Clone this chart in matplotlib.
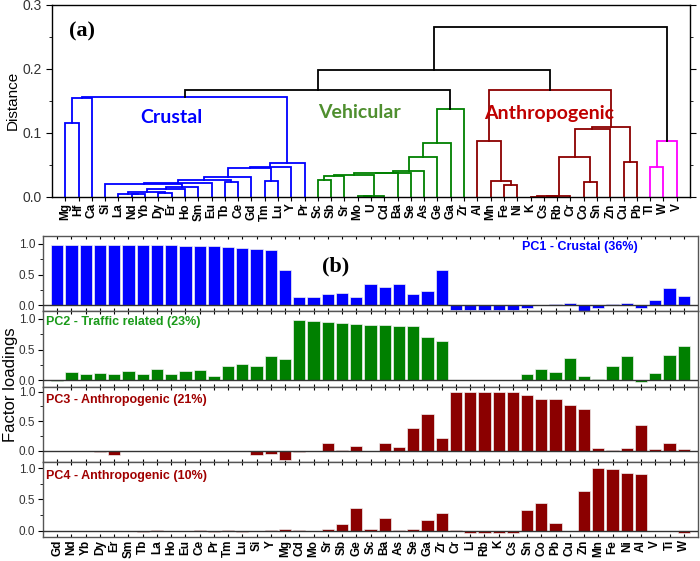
import matplotlib

matplotlib.use("Agg")
import matplotlib.pyplot as plt
from matplotlib.ticker import MultipleLocator

plt.rcParams["font.family"] = ["Liberation Sans", "DejaVu Sans"]

# ---- panel (a): hierarchical cluster dendrogram ----
dendro_leaves = ["Mg", "Hf", "Ca", "Si", "La", "Nd", "Yb", "Dy", "Er", "Ho", "Sm", "Eu",
                 "Tb", "Ce", "Gd", "Tm", "Lu", "Y", "Pr", "Sc", "Sb", "Sr", "Mo", "U",
                 "Cd", "Ba", "Se", "As", "Ge", "Ga", "Zr", "Al", "Mn", "Fe", "Ni", "K",
                 "Cs", "Rb", "Cr", "Co", "Sn", "Zn", "Cu", "Pb", "Tl", "W", "V"]

# (new node, left child, right child, merge distance)
crustal_merges = [
    ("MgHf", "Mg", "Hf", 0.115),
    ("c1", "Nd", "Yb", 0.004),
    ("c2", "La", "c1", 0.005),
    ("c3", "Dy", "Er", 0.006),
    ("c4", "c2", "c3", 0.008),
    ("c5", "c4", "Ho", 0.013),
    ("c6", "c5", "Sm", 0.016),
    ("c7", "Si", "c6", 0.020),
    ("c8", "c7", "Eu", 0.022),
    ("c9", "Tb", "Ce", 0.024),
    ("c10", "c8", "c9", 0.026),
    ("c11", "c10", "Gd", 0.031),
    ("c12", "Tm", "Lu", 0.025),
    ("c13", "c11", "c12", 0.045),
    ("c14", "c13", "Y", 0.047),
    ("c15", "c14", "Pr", 0.053),
    ("c16", "MgHf", "Ca", 0.155),
    ("Crustal", "c16", "c15", 0.157),
]
vehicular_merges = [
    ("v1", "Sc", "Sb", 0.027),
    ("v2", "v1", "Sr", 0.033),
    ("v3", "Mo", "U", 0.001),
    ("v4", "v3", "Cd", 0.002),
    ("v5", "v2", "v4", 0.035),
    ("v6", "v5", "Ba", 0.037),
    ("v7", "v6", "Se", 0.038),
    ("v8", "v7", "As", 0.040),
    ("v9", "v8", "Ge", 0.063),
    ("v10", "v9", "Ga", 0.085),
    ("Vehicular", "v10", "Zr", 0.137),
]
anthro_merges = [
    ("a1", "Fe", "Ni", 0.018),
    ("a2", "Mn", "a1", 0.025),
    ("a3", "Al", "a2", 0.087),
    ("a4", "K", "Cs", 0.0007),
    ("a5", "a4", "Rb", 0.0012),
    ("a6", "a5", "Cr", 0.002),
    ("a7", "Co", "Sn", 0.023),
    ("a8", "a6", "a7", 0.062),
    ("a9", "a8", "Zn", 0.107),
    ("a10", "Cu", "Pb", 0.054),
    ("a11", "a9", "a10", 0.109),
    ("Anthro", "a3", "a11", 0.167),
]
other_merges = [
    ("t1", "Tl", "W", 0.047),
    ("TWV", "t1", "V", 0.088),
]
top_merges = [
    ("cv", "Crustal", "Vehicular", 0.167),
    ("cva", "cv", "Anthro", 0.199),
    ("root", "cva", "TWV", 0.265),
]

# ---- panel (b): PCA factor loadings ----
elements = ["Gd", "Nd", "Yb", "Dy", "Er", "Sm", "Tb", "La", "Ho", "Eu", "Ce", "Pr", "Tm",
            "Lu", "Si", "Y", "Mg", "Cd", "Mo", "Sr", "Sb", "Ge", "Sc", "Ba", "As", "Se",
            "Ga", "Zr", "Cr", "Li", "Rb", "K", "Cs", "Sn", "Co", "Pb", "Cu", "Zn", "Mn",
            "Fe", "Ni", "Al", "V", "Ti", "W"]
pc1 = [0.99, 0.99, 0.99, 0.99, 0.98, 0.98, 0.98, 0.98, 0.98, 0.97, 0.97, 0.96, 0.95,
       0.94, 0.92, 0.90, 0.58, 0.14, 0.13, 0.19, 0.20, 0.13, 0.34, 0.30, 0.34, 0.18,
       0.23, 0.57, -0.07, -0.07, -0.07, -0.07, -0.07, -0.05, 0.01, 0.02, 0.04, -0.09,
       -0.04, 0.02, 0.03, -0.05, 0.09, 0.29, 0.15]
pc2 = [-0.01, 0.13, 0.11, 0.12, 0.10, 0.145, 0.10, 0.18, 0.11, 0.145, 0.17, 0.065, 0.23,
       0.27, 0.23, 0.39, 0.355, 0.99, 0.97, 0.95, 0.93, 0.92, 0.90, 0.90, 0.89, 0.88,
       0.70, 0.645, 0.01, 0.01, 0.01, 0.01, 0.01, 0.10, 0.18, 0.135, 0.365, 0.065,
       0.015, 0.225, 0.40, -0.03, 0.12, 0.41, 0.56]
pc3 = [-0.01, 0.0, -0.01, -0.02, -0.07, -0.01, 0.0, -0.01, -0.01, -0.01, -0.01, 0.0, 0.0,
       -0.01, -0.075, -0.047, -0.15, -0.02, -0.01, 0.13, 0.01, 0.08, 0.0, 0.13, 0.06,
       0.38, 0.63, 0.22, 1.0, 1.0, 1.0, 1.0, 1.0, 0.94, 0.88, 0.88, 0.77, 0.71, 0.04,
       0.01, 0.04, 0.44, 0.03, 0.13, 0.025]
pc4 = [0.0, -0.005, -0.005, -0.005, -0.005, -0.005, -0.015, 0.005, -0.005, -0.005, 0.005,
       -0.015, 0.005, -0.015, 0.0, 0.005, 0.03, 0.005, 0.0, 0.03, 0.11, 0.36, 0.03, 0.21,
       0.015, 0.03, 0.17, 0.29, 0.015, -0.04, -0.04, -0.04, -0.04, 0.33, 0.44, 0.125,
       -0.01, 0.64, 1.0, 0.99, 0.92, 0.91, -0.01, 0.0, -0.03]

pc_labels = ["PC1 - Crustal (36%)", "PC2 - Traffic related (23%)",
             "PC3 - Anthropogenic (21%)", "PC4 - Anthropogenic (10%)"]

BLUE, GREEN, DARKRED, MAGENTA = "#0000ff", "#008000", "#8b0000", "#ff00ff"
W, H = 700, 561


def px_axes(fig, left, top, right, bottom):
    return fig.add_axes([left / W, 1 - bottom / H, (right - left) / W, (bottom - top) / H])


def draw_dendrogram(ax):
    nodes = {name: (i + 1, 0.0) for i, name in enumerate(dendro_leaves)}
    groups = [(crustal_merges, BLUE), (vehicular_merges, GREEN), (anthro_merges, DARKRED),
              (other_merges, MAGENTA), (top_merges, "black")]
    for merges, color in groups:
        for new, left, right, h in merges:
            xl, hl = nodes[left]
            xr, hr = nodes[right]
            ax.plot([xl, xl, xr, xr], [hl, h, h, hr], color=color, lw=1.3,
                    solid_joinstyle="miter", zorder=2)
            nodes[new] = ((xl + xr) / 2, h)


fig = plt.figure(figsize=(7.0, 5.61), dpi=100)

# panel (a)
ax = px_axes(fig, 52, 5, 690, 197)
draw_dendrogram(ax)
ax.set_xlim(0, len(dendro_leaves) + 1)
ax.set_ylim(0, 0.3)
ax.set_xticks(range(1, len(dendro_leaves) + 1))
ax.set_xticklabels(dendro_leaves, rotation=90, fontsize=8.5, fontweight="bold")
ax.yaxis.set_major_locator(MultipleLocator(0.1))
ax.yaxis.set_minor_locator(MultipleLocator(0.05))
ax.tick_params(axis="x", length=3, pad=1.5)
ax.tick_params(axis="y", which="major", length=4, labelsize=10, labelcolor="#333333")
ax.tick_params(axis="y", which="minor", length=2)
ax.tick_params(axis="y", which="both", right=True, labelright=False)
for s in ax.spines.values():
    s.set_linewidth(1.0)
fig.text(13 / W, 1 - 100 / H, "Distance", rotation=90, fontsize=11,
         ha="center", va="center")
ax.text(0.047, 0.86, "(a)", transform=ax.transAxes, fontsize=16, fontweight="bold",
        family="Liberation Serif", ha="center", va="center")
ax.text(9.0, 0.124, "Crustal", color=BLUE, fontsize=14, fontweight="bold",
        family="Lato", ha="center", va="center")
ax.text(23.15, 0.132, "Vehicular", color="#4f8f2f", fontsize=14, fontweight="bold",
        family="Lato", ha="center", va="center")
ax.text(37.4, 0.130, "Anthropogenic", color="#c00000", fontsize=14, fontweight="bold",
        family="Lato", ha="center", va="center")

# panel (b)
panel_px = [(236, 311), (311, 387), (387, 462), (462, 537)]
panel_ylim = [(-0.093, 1.13), (-0.11, 1.13), (-0.19, 1.08), (-0.10, 1.096)]
series = [pc1, pc2, pc3, pc4]
bar_colors = [BLUE, GREEN, DARKRED, DARKRED]
text_colors = [BLUE, "#1a9a1a", "#a00000", "#a00000"]
x = list(range(1, len(elements) + 1))

for k in range(4):
    top, bot = panel_px[k]
    axb = px_axes(fig, 43, top, 698, bot)
    axb.bar(x, series[k], width=0.86, color=bar_colors[k], edgecolor="#f0f0f0",
            linewidth=0.5, zorder=2)
    axb.axhline(0, color="#333333", lw=1.0, zorder=3)
    axb.set_xlim(0, len(elements) + 1)
    axb.set_ylim(*panel_ylim[k])
    axb.set_yticks([0.0, 0.5, 1.0])
    axb.yaxis.set_minor_locator(MultipleLocator(0.25))
    axb.set_xticks(x)
    axb.tick_params(axis="x", direction="in", length=2.5, top=True, bottom=True)
    axb.tick_params(axis="y", which="major", length=3.5, labelsize=8.5, labelcolor="#333333",
                    pad=2)
    axb.tick_params(axis="y", which="minor", length=2)
    for s in axb.spines.values():
        s.set_color("#555555")
        s.set_linewidth(1.0)
    if k < 3:
        axb.set_xticklabels([])
    else:
        axb.set_xticklabels(elements, rotation=90, fontsize=8.5, fontweight="bold")
        axb.tick_params(axis="x", pad=2)
    if k == 0:
        axb.text(0.908, 0.853, pc_labels[k], transform=axb.transAxes, color=text_colors[k],
                 fontsize=9, fontweight="bold", ha="right", va="center")
        axb.text(0.447, 0.59, "(b)", transform=axb.transAxes, fontsize=16,
                 fontweight="bold", family="Liberation Serif", ha="center", va="center")
    else:
        ytxt = [0.86, 0.827, 0.813][k - 1]
        axb.text(0.004, ytxt, pc_labels[k], transform=axb.transAxes, color=text_colors[k],
                 fontsize=9, fontweight="bold", ha="left", va="center")

fig.text(11 / W, 1 - 385 / H, "Factor loadings", rotation=90, fontsize=12,
         ha="center", va="center")

fig.savefig("out.png", dpi=100)
